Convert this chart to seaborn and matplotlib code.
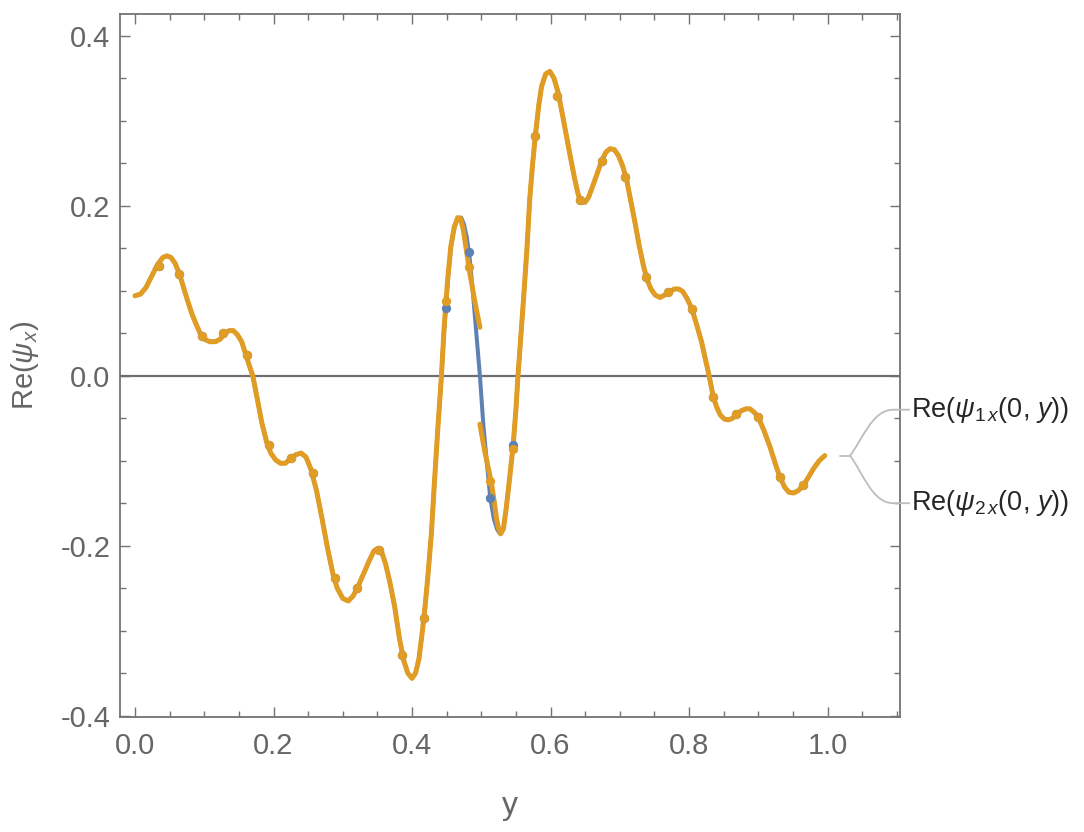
import numpy as np
import pandas as pd
import matplotlib
matplotlib.use("Agg")
import matplotlib.pyplot as plt
import seaborn as sns
from matplotlib.path import Path
from matplotlib.patches import PathPatch
from matplotlib.ticker import MultipleLocator, FormatStrFormatter

# ---------------- data ----------------
# common part of both curves, y in [0, 0.4425]
left_y = [0.000, 0.008, 0.016, 0.024, 0.032, 0.040, 0.046, 0.052, 0.058, 0.064,
          0.070, 0.076, 0.082, 0.088, 0.094, 0.100, 0.108, 0.116, 0.123, 0.130,
          0.136, 0.142, 0.148, 0.154, 0.160, 0.165, 0.170, 0.176, 0.183, 0.190,
          0.196, 0.203, 0.210, 0.217, 0.224, 0.232, 0.240, 0.247, 0.254, 0.262,
          0.270, 0.278, 0.286, 0.292, 0.300, 0.308, 0.315, 0.322, 0.330, 0.338,
          0.345, 0.351, 0.356, 0.362, 0.368, 0.375, 0.382, 0.388, 0.394, 0.400,
          0.405, 0.410, 0.415, 0.419, 0.423, 0.428, 0.432, 0.437, 0.4425]
left_re = [0.094, 0.096, 0.104, 0.117, 0.130, 0.139, 0.141, 0.139, 0.132, 0.120,
           0.104, 0.088, 0.073, 0.061, 0.050, 0.043, 0.040, 0.040, 0.043, 0.050,
           0.053, 0.053, 0.048, 0.040, 0.025, 0.012, 0.000, -0.025, -0.055, -0.078,
           -0.091, -0.099, -0.103, -0.103, -0.098, -0.093, -0.091, -0.096, -0.110, -0.135,
           -0.168, -0.203, -0.234, -0.250, -0.262, -0.265, -0.259, -0.248, -0.233, -0.218,
           -0.206, -0.203, -0.207, -0.222, -0.243, -0.272, -0.310, -0.335, -0.350, -0.356,
           -0.350, -0.333, -0.300, -0.270, -0.235, -0.185, -0.130, -0.065, 0.000]

# psi_1 (blue) in the middle, continuous
mid1_y = [0.446, 0.449, 0.452, 0.456, 0.461, 0.466, 0.471, 0.475, 0.479, 0.483,
          0.488, 0.493, 0.498, 0.503, 0.508, 0.513, 0.518, 0.523, 0.527]
mid1_re = [0.050, 0.082, 0.115, 0.150, 0.174, 0.185, 0.186, 0.178, 0.163, 0.140,
           0.097, 0.048, 0.000, -0.058, -0.102, -0.144, -0.168, -0.181, -0.186]

# psi_2 (orange) in the middle, broken at y = 0.5
mid2a_y = [0.446, 0.449, 0.452, 0.456, 0.461, 0.466, 0.470, 0.474, 0.479, 0.484, 0.491, 0.498]
mid2a_re = [0.052, 0.087, 0.118, 0.152, 0.175, 0.186, 0.185, 0.172, 0.145, 0.118, 0.086, 0.057]
mid2b_y = [0.498, 0.505, 0.510, 0.515, 0.519, 0.522, 0.525, 0.528]
mid2b_re = [-0.057, -0.089, -0.108, -0.128, -0.150, -0.168, -0.180, -0.186]

# common part of both curves, y in [0.532, 1]
right_y = [0.532, 0.536, 0.541, 0.546, 0.550, 0.553, 0.557, 0.561, 0.566, 0.570,
           0.574, 0.578, 0.583, 0.587, 0.593, 0.599, 0.605, 0.611, 0.617, 0.623,
           0.629, 0.635, 0.640, 0.645, 0.650, 0.655, 0.660, 0.667, 0.674, 0.680,
           0.686, 0.692, 0.698, 0.704, 0.710, 0.716, 0.722, 0.728, 0.734, 0.739,
           0.745, 0.751, 0.758, 0.765, 0.772, 0.779, 0.785, 0.791, 0.797, 0.804,
           0.811, 0.818, 0.824, 0.829, 0.835, 0.840, 0.845, 0.851, 0.857, 0.863,
           0.869, 0.876, 0.882, 0.888, 0.894, 0.900, 0.908, 0.917, 0.924, 0.931,
           0.938, 0.944, 0.951, 0.958, 0.965, 0.972, 0.980, 0.988, 0.996]
right_re = [-0.180, -0.156, -0.120, -0.082, -0.040, 0.000, 0.045, 0.090, 0.150, 0.208,
            0.248, 0.282, 0.318, 0.340, 0.355, 0.358, 0.350, 0.333, 0.308, 0.282,
            0.256, 0.231, 0.213, 0.204, 0.204, 0.210, 0.221, 0.237, 0.253, 0.263,
            0.267, 0.266, 0.259, 0.247, 0.230, 0.205, 0.180, 0.153, 0.130, 0.114,
            0.102, 0.095, 0.092, 0.095, 0.099, 0.102, 0.102, 0.099, 0.091, 0.079,
            0.060, 0.040, 0.018, 0.000, -0.025, -0.037, -0.046, -0.051, -0.052, -0.050,
            -0.045, -0.041, -0.039, -0.039, -0.043, -0.049, -0.064, -0.084, -0.102, -0.119,
            -0.131, -0.137, -0.138, -0.135, -0.129, -0.120, -0.109, -0.100, -0.094]

# mesh points (dots) on the curves
mesh_y = [0.034, 0.064, 0.096, 0.127, 0.161, 0.193, 0.225, 0.257, 0.289, 0.321,
          0.352, 0.385, 0.417, 0.449, 0.482, 0.513, 0.546, 0.578, 0.610, 0.643,
          0.675, 0.708, 0.738, 0.770, 0.804, 0.835, 0.868, 0.900, 0.931, 0.964]
dots1 = [0.129, 0.120, 0.047, 0.050, 0.024, -0.081, -0.097, -0.115, -0.238, -0.250,
         -0.205, -0.329, -0.285, 0.080, 0.146, -0.144, -0.082, 0.282, 0.329, 0.207,
         0.252, 0.234, 0.116, 0.098, 0.079, -0.025, -0.045, -0.049, -0.119, -0.128]
dots2 = [0.129, 0.120, 0.047, 0.050, 0.024, -0.081, -0.097, -0.115, -0.238, -0.250,
         -0.205, -0.329, -0.285, 0.088, 0.128, -0.124, -0.086, 0.282, 0.329, 0.207,
         0.252, 0.234, 0.116, 0.098, 0.079, -0.025, -0.045, -0.049, -0.119, -0.128]

labels = [r"Re($\psi_{1\,x}$(0, $y$))", r"Re($\psi_{2\,x}$(0, $y$))"]

# ---------------- styling ----------------
BLUE = "#5e81b5"
ORANGE = "#e19c24"
GRAY_TXT = "#666666"
FRAME = "#737373"

sns.set_style("ticks")
plt.rcParams["font.family"] = ["Liberation Sans", "DejaVu Sans"]
plt.rcParams["mathtext.fontset"] = "custom"
plt.rcParams["mathtext.rm"] = "Liberation Sans"
plt.rcParams["mathtext.it"] = "Liberation Sans:italic"
plt.rcParams["mathtext.fallback"] = "stixsans"
plt.rcParams["axes.unicode_minus"] = False

fig = plt.figure(figsize=(10.84, 8.32), dpi=100)
ax = fig.add_axes([0.1107, 0.1382, 0.7196, 0.845])

df1 = pd.DataFrame({"y": left_y + mid1_y + right_y,
                    "re": left_re + mid1_re + right_re})
df2 = pd.DataFrame({"y": left_y + mid2a_y + mid2b_y + right_y,
                    "re": left_re + mid2a_re + mid2b_re + right_re,
                    "seg": [0] * (len(left_y) + len(mid2a_y)) + [1] * (len(mid2b_y) + len(right_y))})

ax.axhline(0, color="#6e6e6e", lw=1.6, zorder=1)

sns.lineplot(data=df1, x="y", y="re", sort=False, estimator=None, color=BLUE,
             lw=2.9, ax=ax, zorder=2)
sns.lineplot(data=df2, x="y", y="re", units="seg", sort=False, estimator=None,
             color=ORANGE, lw=3.6, ax=ax, zorder=3)
sns.scatterplot(x=mesh_y, y=dots1, color=BLUE, s=45, linewidth=0, ax=ax, zorder=4)
sns.scatterplot(x=mesh_y, y=dots2, color=ORANGE, s=45, linewidth=0, ax=ax, zorder=5)

ax.set_xlim(-0.0217, 1.1047)
ax.set_ylim(-0.4015, 0.4255)

ax.xaxis.set_major_locator(MultipleLocator(0.2))
ax.xaxis.set_minor_locator(MultipleLocator(0.05))
ax.yaxis.set_major_locator(MultipleLocator(0.2))
ax.yaxis.set_minor_locator(MultipleLocator(0.05))
ax.xaxis.set_major_formatter(FormatStrFormatter("%.1f"))
ax.yaxis.set_major_formatter(FormatStrFormatter("%.1f"))

ax.tick_params(which="major", direction="in", length=7, width=1.0, color=FRAME,
               top=True, right=True, labelsize=21, labelcolor=GRAY_TXT)
ax.tick_params(which="minor", direction="in", length=4, width=1.0, color=FRAME,
               top=True, right=True)
ax.tick_params(axis="y", which="major", pad=7)
ax.tick_params(axis="x", which="major", pad=11)

for s in ax.spines.values():
    s.set_color(FRAME)
    s.set_linewidth(1.3)

ax.set_xlabel("y", fontsize=23, color=GRAY_TXT, labelpad=22)
ax.set_ylabel(r"Re($\psi_x$)", fontsize=21, color=GRAY_TXT, labelpad=14)

# ---------------- callout labels ----------------
end_y = right_re[-1]
lbl_y = [-0.040, -0.150]
callout_color = "#bdbdbd"
ax.plot([1.018, 1.0325], [end_y, end_y], color=callout_color, lw=1.3, clip_on=False, zorder=6)
for ly, text in zip(lbl_y, labels):
    verts = [(1.0325, end_y), (1.050, end_y + (ly - end_y) * 0.33),
             (1.064, ly), (1.095, ly), (1.119, ly)]
    codes = [Path.MOVETO, Path.CURVE4, Path.CURVE4, Path.CURVE4, Path.LINETO]
    ax.add_patch(PathPatch(Path(verts, codes), facecolor="none", edgecolor=callout_color,
                           lw=1.3, clip_on=False, zorder=6))
    ax.text(1.121, ly, text, fontsize=19.5, color="#262626", va="center", ha="left",
            clip_on=False)

fig.savefig("out.png", dpi=100)
